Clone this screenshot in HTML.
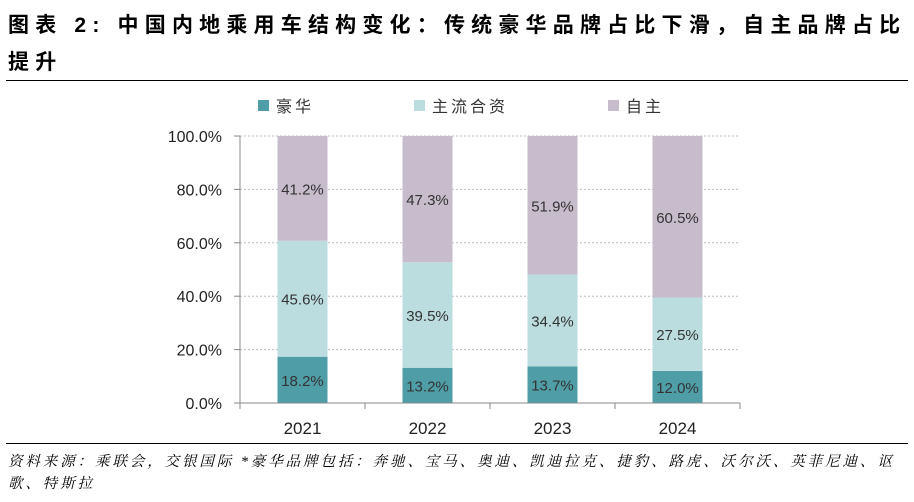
<!DOCTYPE html>
<html><head><meta charset="utf-8"><style>
body{margin:0;width:914px;height:502px;background:#fff;overflow:hidden;font-family:"Liberation Sans","Noto Sans CJK SC",sans-serif;}
.t{position:absolute;left:8px;font-weight:bold;font-size:21px;color:#000;letter-spacing:6.2px;white-space:nowrap}
</style></head><body>
<div class="t" style="top:7px;line-height:37px">图表 2: 中国内地乘用车结构变化：传统豪华品牌占比下滑，自主品牌占比<br>提升</div>
<div style="position:absolute;left:6px;top:80px;width:902px;height:1px;background:#000"></div>
<svg id="c" width="914" height="502" style="position:absolute;left:0;top:0" font-family="Liberation Sans, Noto Sans CJK SC, sans-serif"></svg>
<div style="position:absolute;left:6px;top:443px;width:902px;height:1px;background:#000"></div>
<div style="position:absolute;left:8px;top:451px;font-size:14.5px;font-style:italic;line-height:22px;color:#000;letter-spacing:2.9px;white-space:nowrap;font-family:'Liberation Serif','Noto Serif CJK SC',serif">资料来源：乘联会，交银国际 *豪华品牌包括：奔驰、宝马、奥迪、凯迪拉克、捷豹、路虎、沃尔沃、英菲尼迪、讴<br>歌、特斯拉</div>
<script>
const categories=["2021","2022","2023","2024"];
const luxury=[18.2,13.2,13.7,12.0];
const jv=[45.6,39.5,34.4,27.5];
const domestic=[41.2,47.3,51.9,60.5];
const yTicks=[0,20,40,60,80,100];
const seriesNames=["豪华","主流合资","自主"];
const colors=["#4f9ea7","#bcdde0","#c6bccb"];
const svg=document.getElementById('c');const NS="http://www.w3.org/2000/svg";
const x0=240,x1=740,y0=403,y1=136;
const y=v=>y0-(v/100)*(y0-y1);
const bw=(x1-x0)/categories.length;
const xc=i=>x0+bw*(i+0.5);
function mk(t,a,txt){const e=document.createElementNS(NS,t);for(const k in a)e.setAttribute(k,a[k]);if(txt!==undefined)e.textContent=txt;svg.appendChild(e);return e;}
yTicks.forEach(v=>{
 if(v>0){const g=mk('line',{x1:x0,x2:x1,y1:y(v),y2:y(v),stroke:'#bbb','stroke-dasharray':'2,2'});
 
 }
 const tk=mk('line',{x1:x0-6,x2:x0,y1:y(v),y2:y(v),stroke:'#888'});
 
 
 const l=mk('text',{x:222,y:y(v)+6,'text-anchor':'end','font-size':16,fill:'#222'},v.toFixed(1)+'%');
 
 
});
const series=[luxury,jv,domestic];
categories.forEach((c,i)=>{
 const total=luxury[i]+jv[i]+domestic[i];
 let base=0;
 series.forEach((s,k)=>{
  const top=base+s[i]/total*100;
  const r=mk('rect',{x:xc(i)-25,y:y(top),width:50,height:y(base)-y(top),fill:colors[k]});
  
  
  const t=mk('text',{x:xc(i),y:(y(top)+y(base))/2+6,'text-anchor':'middle','font-size':15,fill:'#333'},s[i].toFixed(1)+'%');
  
  
  base=top;
 });
 const xl=mk('text',{x:xc(i),y:434,'text-anchor':'middle','font-size':17,fill:'#222'},c);
 
 
 const xt=mk('line',{x1:x0+bw*(i+1),x2:x0+bw*(i+1),y1:y0,y2:y0+6,stroke:'#888'});
 
 
});
const ya=mk('line',{x1:x0,x2:x0,y1:y1,y2:y0+6,stroke:'#888'});


const xa=mk('line',{x1:x0-6,x2:x1,y1:y0,y2:y0,stroke:'#888'});


const lx=[258,414,608];
seriesNames.forEach((n,k)=>{
 const r=mk('rect',{x:lx[k],y:100,width:11,height:11,fill:colors[k]});
 
 
 const t=mk('text',{x:lx[k]+18,y:112,'font-size':16,fill:'#333','letter-spacing':3},n);
 
 
});
</script>
</body></html>
